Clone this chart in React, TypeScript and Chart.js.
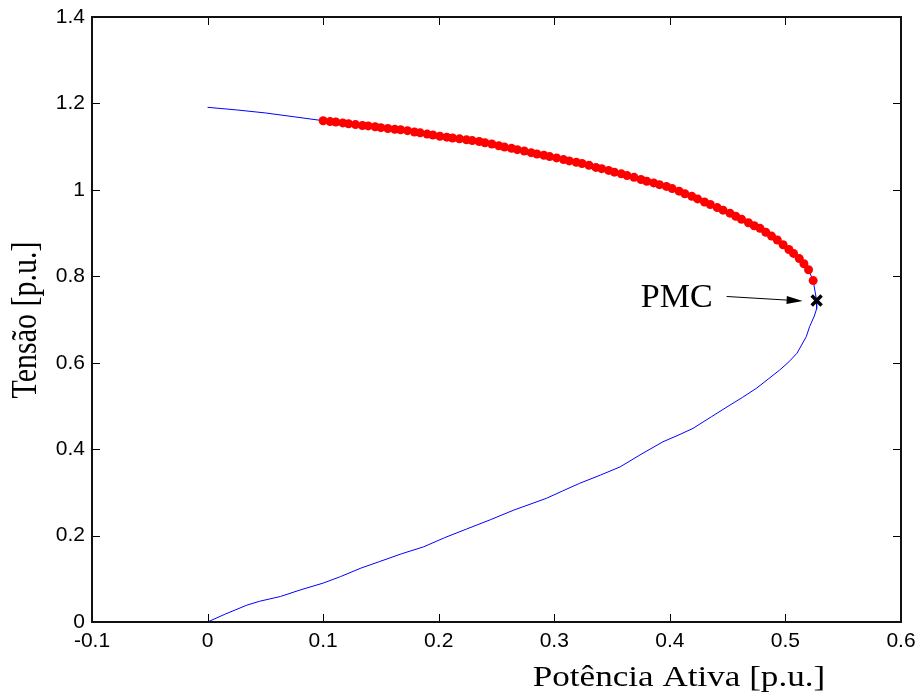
import React, { useEffect, useRef } from 'react';
import { Chart, registerables } from 'chart.js';

Chart.register(...registerables);

// Upper branch (line only, before the red dots)
const upperLineP = [0, 0.025, 0.05, 0.075];
const upperLineV = [1.191, 1.185, 1.178, 1.169];

// Red dots on upper branch (continuation steps)
const dotP = [
  0.100, 0.106, 0.111, 0.117, 0.122, 0.128, 0.134, 0.139, 0.145, 0.150,
  0.156, 0.162, 0.167, 0.173, 0.179, 0.184, 0.190, 0.195, 0.201, 0.207,
  0.212, 0.218, 0.224, 0.229, 0.235, 0.240, 0.246, 0.252, 0.257, 0.263,
  0.268, 0.274, 0.280, 0.285, 0.291, 0.296, 0.302, 0.308, 0.313, 0.319,
  0.324, 0.330, 0.336, 0.341, 0.347, 0.352, 0.358, 0.363, 0.369, 0.375,
  0.380, 0.386, 0.391, 0.397, 0.402, 0.408, 0.413, 0.419, 0.424, 0.430,
  0.435, 0.441, 0.446, 0.452, 0.457, 0.462, 0.468, 0.473, 0.478, 0.483,
  0.488, 0.493, 0.498, 0.503, 0.507, 0.512, 0.516, 0.520, 0.524,
];
const dotV = [
  1.160, 1.158, 1.157, 1.155, 1.153, 1.151, 1.149, 1.148, 1.146, 1.144,
  1.142, 1.140, 1.139, 1.137, 1.134, 1.132, 1.129, 1.127, 1.124, 1.122,
  1.120, 1.118, 1.116, 1.114, 1.112, 1.109, 1.106, 1.102, 1.099, 1.096,
  1.093, 1.090, 1.086, 1.083, 1.080, 1.077, 1.074, 1.070, 1.067, 1.064,
  1.061, 1.057, 1.052, 1.049, 1.045, 1.041, 1.037, 1.033, 1.029, 1.024,
  1.020, 1.016, 1.012, 1.008, 1.003, 0.997, 0.991, 0.985, 0.979, 0.972,
  0.966, 0.959, 0.953, 0.946, 0.939, 0.932, 0.924, 0.917, 0.911, 0.902,
  0.893, 0.884, 0.873, 0.862, 0.853, 0.841, 0.829, 0.815, 0.790,
];

// Maximum loading point (PMC)
const pmcP = 0.527;
const pmcV = 0.744;

// Lower branch from the nose down to the origin
const lowerP = [
  0.527, 0.525, 0.521, 0.518, 0.510, 0.503, 0.495, 0.485, 0.475, 0.463,
  0.452, 0.436, 0.420, 0.407, 0.394, 0.375, 0.357, 0.340, 0.322, 0.307,
  0.293, 0.265, 0.245, 0.224, 0.205, 0.187, 0.168, 0.149, 0.132, 0.115,
  0.100, 0.080, 0.063, 0.045, 0.034, 0.015, 0,
];
const lowerV = [
  0.725, 0.708, 0.684, 0.660, 0.622, 0.602, 0.583, 0.562, 0.541, 0.520,
  0.502, 0.475, 0.448, 0.432, 0.417, 0.388, 0.359, 0.340, 0.321, 0.303,
  0.286, 0.259, 0.237, 0.215, 0.195, 0.174, 0.158, 0.140, 0.124, 0.105,
  0.090, 0.074, 0.059, 0.048, 0.039, 0.018, 0,
];

const xTicks = [-0.1, 0, 0.1, 0.2, 0.3, 0.4, 0.5, 0.6];
const xTickLabels = ['-0.1', '0', '0.1', '0.2', '0.3', '0.4', '0.5', '0.6'];
const yTicks = [0, 0.2, 0.4, 0.6, 0.8, 1, 1.2, 1.4];
const yTickLabels = ['0', '0.2', '0.4', '0.6', '0.8', '1', '1.2', '1.4'];

const xTitle = 'Potência Ativa [p.u.]';
const yTitle = 'Tensão [p.u.]';
const pmcLabel = 'PMC';

const curveP = [...upperLineP, ...dotP, pmcP, ...lowerP];
const curveV = [...upperLineV, ...dotV, pmcV, ...lowerV];

const SERIF = '"Liberation Serif", "Times New Roman", serif';

const framePlugin = {
  id: 'matlabFrame',
  afterDatasetsDraw(chart: any) {
    const { ctx, chartArea, scales } = chart;
    const { left, right, top, bottom } = chartArea;
    const xs = scales.x;
    const ys = scales.y;
    ctx.save();
    // inward ticks
    ctx.strokeStyle = '#000';
    ctx.lineWidth = 1;
    const tl = 8;
    ctx.beginPath();
    xTicks.forEach((v) => {
      const px = Math.round(xs.getPixelForValue(v)) + 0.5;
      ctx.moveTo(px, bottom);
      ctx.lineTo(px, bottom - tl);
      ctx.moveTo(px, top);
      ctx.lineTo(px, top + tl);
    });
    yTicks.forEach((v) => {
      const py = Math.round(ys.getPixelForValue(v)) + 0.5;
      ctx.moveTo(left, py);
      ctx.lineTo(left + tl, py);
      ctx.moveTo(right, py);
      ctx.lineTo(right - tl, py);
    });
    ctx.stroke();
    // frame
    ctx.lineWidth = 2;
    ctx.strokeStyle = '#111';
    ctx.strokeRect(left, top, right - left, bottom - top);

    // PMC annotation
    const mx = xs.getPixelForValue(pmcP);
    const my = ys.getPixelForValue(pmcV);
    ctx.fillStyle = '#000';
    ctx.font = '34px ' + SERIF;
    ctx.textAlign = 'right';
    ctx.textBaseline = 'alphabetic';
    ctx.fillText(pmcLabel, mx - 104, my + 7);
    // arrow
    const x0 = mx - 90;
    const y0 = my - 4;
    const x1 = mx - 14;
    const y1 = my + 0.5;
    ctx.lineWidth = 1;
    ctx.strokeStyle = '#000';
    ctx.beginPath();
    ctx.moveTo(x0, y0);
    ctx.lineTo(x1 - 14, y1 - 0.8);
    ctx.stroke();
    const ang = Math.atan2(y1 - y0, x1 - x0);
    ctx.beginPath();
    ctx.moveTo(x1, y1);
    ctx.lineTo(x1 - 16 * Math.cos(ang) + 4 * Math.sin(ang), y1 - 16 * Math.sin(ang) - 4 * Math.cos(ang));
    ctx.lineTo(x1 - 16 * Math.cos(ang) - 4 * Math.sin(ang), y1 - 16 * Math.sin(ang) + 4 * Math.cos(ang));
    ctx.closePath();
    ctx.fill();

    // axis titles (slightly wide, as in the reference rendering)
    ctx.font = '30px ' + SERIF;
    ctx.textAlign = 'center';
    ctx.textBaseline = 'alphabetic';
    ctx.save();
    ctx.translate(679, 686);
    ctx.scale(1.17, 1);
    ctx.fillText(xTitle, 0, 0);
    ctx.restore();
    ctx.save();
    ctx.translate(36, 320);
    ctx.scale(1.17, 1);
    ctx.rotate(-Math.PI / 2);
    ctx.fillText(yTitle, 0, 0);
    ctx.restore();
    ctx.restore();
  },
};

export default function App() {
  const ref = useRef<HTMLCanvasElement | null>(null);

  useEffect(() => {
    const canvas = ref.current;
    if (!canvas) return;
    const curve = curveP.map((p, i) => ({ x: p, y: curveV[i] }));
    const dots = dotP.map((p, i) => ({ x: p, y: dotV[i] }));
    const tickFont = { family: '"Liberation Sans", Arial, sans-serif', size: 21 };
    const chart = new Chart(canvas, {
      type: 'scatter',
      data: {
        datasets: [
          {
            label: 'marker',
            data: [{ x: pmcP, y: pmcV }],
            pointStyle: 'crossRot',
            pointRadius: 7,
            borderColor: '#000',
            borderWidth: 3.5,
            backgroundColor: '#000',
            order: 1,
          } as any,
          {
            label: 'dots',
            data: dots,
            pointRadius: 4.5,
            backgroundColor: '#ff0000',
            borderWidth: 0,
            showLine: false,
            order: 2,
          } as any,
          {
            label: 'curve',
            data: curve,
            showLine: true,
            borderColor: '#0000ff',
            borderWidth: 1,
            pointRadius: 0,
            tension: 0,
            order: 3,
          } as any,
        ],
      },
      options: {
        responsive: false,
        animation: false,
        devicePixelRatio: 1,
        layout: { padding: { left: 0, top: 17, right: 17, bottom: 0 } },
        plugins: { legend: { display: false }, tooltip: { enabled: false } },
        events: [],
        scales: {
          x: {
            type: 'linear',
            min: -0.1,
            max: 0.6,
            grid: { display: false, drawTicks: false },
            border: { display: false },
            afterBuildTicks: (s: any) => {
              s.ticks = xTicks.map((v) => ({ value: v }));
            },
            afterFit: (s: any) => {
              s.height = 74;
              s.paddingLeft = 0;
              s.paddingRight = 0;
            },
            ticks: {
              color: '#000',
              font: tickFont,
              padding: 7,
              maxRotation: 0,
              autoSkip: false,
              callback: (v: any) => {
                const i = xTicks.findIndex((t) => Math.abs(t - Number(v)) < 1e-9);
                return i >= 0 ? xTickLabels[i] : '';
              },
            },
          },
          y: {
            type: 'linear',
            min: 0,
            max: 1.4,
            grid: { display: false, drawTicks: false },
            border: { display: false },
            afterBuildTicks: (s: any) => {
              s.ticks = yTicks.map((v) => ({ value: v }));
            },
            afterFit: (s: any) => {
              s.width = 92;
              s.paddingTop = 0;
              s.paddingBottom = 0;
            },
            ticks: {
              color: '#000',
              font: tickFont,
              padding: 7,
              autoSkip: false,
              callback: (v: any) => {
                const i = yTicks.findIndex((t) => Math.abs(t - Number(v)) < 1e-9);
                return i >= 0 ? yTickLabels[i] : '';
              },
            },
          },
        },
      } as any,
      plugins: [framePlugin],
    });
    return () => chart.destroy();
  }, []);

  return (
    <div style={{ position: 'absolute', left: 0, top: 0, width: 918, height: 696, background: '#fff' }}>
      <canvas ref={ref} width={918} height={696} style={{ width: 918, height: 696, display: 'block' }} />
    </div>
  );
}
